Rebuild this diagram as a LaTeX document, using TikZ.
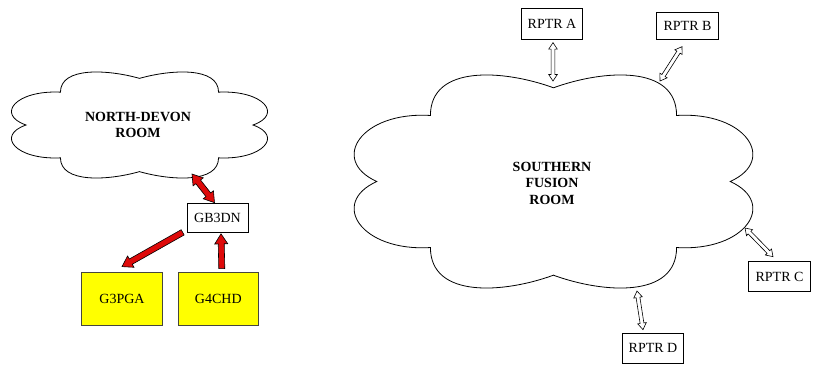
\documentclass[tikz,border=0pt]{standalone}
\usepackage{fontspec}
\setmainfont{Liberation Serif}
\usetikzlibrary{calc}
\definecolor{arrowred}{RGB}{222,10,10}
\definecolor{boxyellow}{RGB}{255,255,0}
\definecolor{boxedge}{RGB}{70,70,60}
\tikzset{
  cloudline/.style={draw=black, line width=0.8pt, fill=white},
  plainbox/.style={draw=black, line width=0.7pt, fill=white, inner sep=0pt,
    font=\fontsize{14}{16}\selectfont},
  yellowbox/.style={draw=boxedge, line width=0.8pt, fill=boxyellow, inner sep=0pt,
    minimum width=80pt, minimum height=53pt, font=\fontsize{14}{16}\selectfont},
  cloudtext/.style={align=center, font=\bfseries\fontsize{14}{16.5}\selectfont},
  arrowdims/.code n args={3}{\def\ashaft{#1}\def\ahead{#2}\def\alen{#3}},
  % block arrow with one head, at the target
  oneblock/.style={line join=miter, to path={
    let \p1=(\tikztostart), \p2=(\tikztotarget),
        \n1={atan2(\y2-\y1,\x2-\x1)}, \n2={veclen(\x2-\x1,\y2-\y1)},
        \n3={\n2-\alen} in
    ($(\p1)+(\n1+90:\ashaft pt)$)
    -- ($(\p1)+(\n1:\n3)+(\n1+90:\ashaft pt)$)
    -- ($(\p1)+(\n1:\n3)+(\n1+90:\ahead pt)$)
    -- (\p2)
    -- ($(\p1)+(\n1:\n3)+(\n1-90:\ahead pt)$)
    -- ($(\p1)+(\n1:\n3)+(\n1-90:\ashaft pt)$)
    -- ($(\p1)+(\n1-90:\ashaft pt)$) -- cycle}},
  % block arrow with a head at each end
  twoblock/.style={line join=miter, to path={
    let \p1=(\tikztostart), \p2=(\tikztotarget),
        \n1={atan2(\y2-\y1,\x2-\x1)}, \n2={veclen(\x2-\x1,\y2-\y1)},
        \n3={\n2-\alen} in
    (\p1)
    -- ($(\p1)+(\n1:\alen pt)+(\n1+90:\ahead pt)$)
    -- ($(\p1)+(\n1:\alen pt)+(\n1+90:\ashaft pt)$)
    -- ($(\p1)+(\n1:\n3)+(\n1+90:\ashaft pt)$)
    -- ($(\p1)+(\n1:\n3)+(\n1+90:\ahead pt)$)
    -- (\p2)
    -- ($(\p1)+(\n1:\n3)+(\n1-90:\ahead pt)$)
    -- ($(\p1)+(\n1:\n3)+(\n1-90:\ashaft pt)$)
    -- ($(\p1)+(\n1:\alen pt)+(\n1-90:\ashaft pt)$)
    -- ($(\p1)+(\n1:\alen pt)+(\n1-90:\ahead pt)$) -- cycle}},
  redarrow/.style={draw=black, line width=0.6pt, fill=arrowred, arrowdims={3}{6.5}{10}, oneblock},
  redbiarrow/.style={draw=black, line width=0.6pt, fill=arrowred, arrowdims={3}{6.5}{10}, twoblock},
  whitebiarrow/.style={draw=black, line width=0.6pt, fill=white, arrowdims={1.9}{4.3}{6.5}, twoblock},
}
\newcommand{\cloudpath}{%
  (0,0.88) .. controls (0.25,1.05) and (0.62,1.1) .. (0.62,0.62)
  .. controls (0.97,0.66) and (1.13,0.2) .. (0.89,0)
  .. controls (1.13,-0.2) and (0.97,-0.66) .. (0.62,-0.62)
  .. controls (0.62,-1.1) and (0.25,-1.05) .. (0,-0.88)
  .. controls (-0.25,-1.05) and (-0.62,-1.1) .. (-0.62,-0.62)
  .. controls (-0.97,-0.66) and (-1.13,-0.2) .. (-0.89,0)
  .. controls (-1.13,0.2) and (-0.97,0.66) .. (-0.62,0.62)
  .. controls (-0.62,1.1) and (-0.25,1.05) .. cycle}
\begin{document}
\begin{tikzpicture}[x=1pt, y=-1pt]
\useasboundingbox (0,0) rectangle (815,365);

% clouds
\begin{scope}[shift={(139.5,125)}, xscale=127.5, yscale=53]
  \draw[cloudline] \cloudpath;
\end{scope}
\begin{scope}[shift={(553.5,181.5)}, xscale=198.5, yscale=106.5]
  \draw[cloudline] \cloudpath;
\end{scope}
\node[cloudtext] (nd) at (138,125) {NORTH-DEVON\\ROOM};
\node[cloudtext] (sf) at (552,183) {SOUTHERN\\FUSION\\ROOM};

% boxes
\node[plainbox, minimum width=61pt, minimum height=29pt] (gb) at (217.5,217.5) {GB3DN};
\node[yellowbox, minimum width=80.5pt] (g3) at (122,298.5) {G3PGA};
\node[yellowbox] (g4) at (218.3,298.5) {G4CHD};
\node[plainbox, minimum width=61pt, minimum height=31pt] (ra) at (552,23.8) {RPTR A};
\node[plainbox, minimum width=61.5pt, minimum height=27pt] (rb) at (687.5,25.8) {RPTR B};
\node[plainbox, minimum width=62pt, minimum height=30pt] (rc) at (779.5,276.7) {RPTR C};
\node[plainbox, minimum width=61pt, minimum height=30pt] (rd) at (653,348.3) {RPTR D};

% cloud attachment points
\coordinate (ndb) at (192,174);
\coordinate (sfa) at (553,81);
\coordinate (sfb) at (660,81);
\coordinate (sfc) at (745,228);
\coordinate (sfd) at (637,291);

% red arrows
\draw[redbiarrow] (ndb) to ([xshift=-3pt]gb.north);
\draw[redarrow] ([xshift=-4pt]gb.south west) to ([yshift=5pt]g3.north);
\draw[redarrow] ([xshift=3.5pt,yshift=3pt]g4.north) to ([xshift=3.5pt,yshift=-1.5pt]gb.south);

% white arrows
\draw[whitebiarrow] (sfa) to ([xshift=1pt,yshift=-3pt]ra.south);
\draw[whitebiarrow] (sfb) to ([xshift=-5.5pt,yshift=-7pt]rb.south);
\draw[whitebiarrow] (sfc) to ([xshift=-6.5pt,yshift=4.7pt]rc.north);
\draw[whitebiarrow] (sfd) to ([xshift=-10pt,yshift=3.3pt]rd.north);
\end{tikzpicture}
\end{document}
